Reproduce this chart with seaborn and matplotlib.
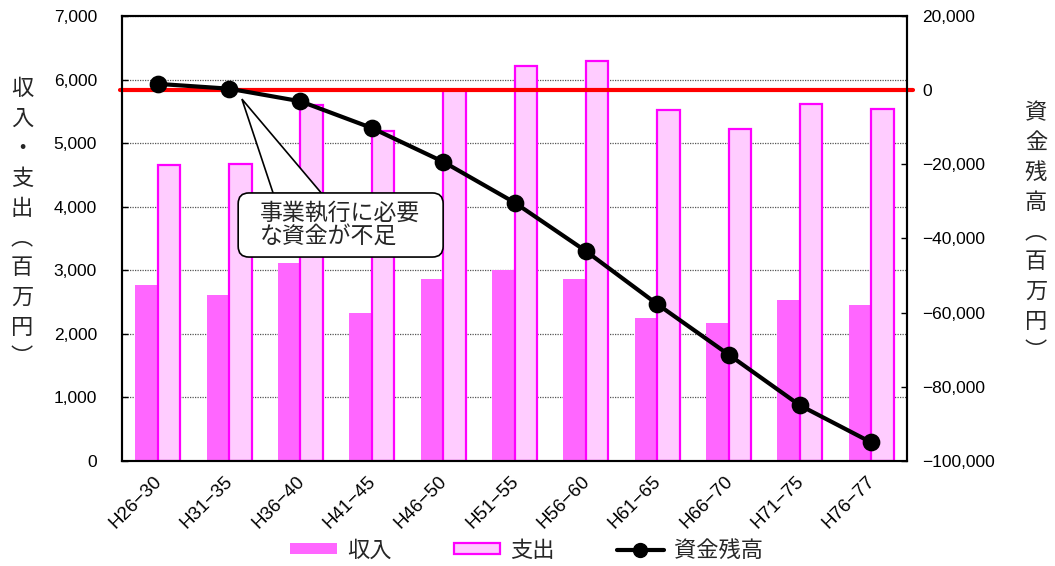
import matplotlib
matplotlib.use("Agg")
import matplotlib.pyplot as plt
from matplotlib.patches import Patch, Polygon, FancyBboxPatch
from matplotlib.lines import Line2D
from matplotlib.ticker import FixedLocator, FuncFormatter
import matplotlib.transforms as mtransforms
import numpy as np
import pandas as pd
import seaborn as sns

# --- data (百万円) ---
periods = ["H26−30", "H31−35", "H36−40", "H41−45", "H46−50", "H51−55",
           "H56−60", "H61−65", "H66−70", "H71−75", "H76−77"]
income = [2770, 2610, 3110, 2330, 2860, 3000, 2860, 2250, 2170, 2530, 2450]
expenditure = [4650, 4670, 5600, 5190, 5830, 6210, 6290, 5520, 5230, 5620, 5535]
balance = [1700, 400, -3000, -10200, -19300, -30300, -43400, -57700, -71300, -85000, -95000]

left_ticks = [0, 1000, 2000, 3000, 4000, 5000, 6000, 7000]
right_ticks = [20000, 0, -20000, -40000, -60000, -80000, -100000]

INC_COLOR = "#FF66FF"
EXP_FILL = "#FFCCFF"
EXP_EDGE = "#FF00FF"

sns.set_theme(style="white")
plt.rcParams["font.family"] = ["Liberation Sans", "Noto Sans CJK JP", "DejaVu Sans"]
JP = ["Noto Sans CJK JP", "DejaVu Sans"]

fig = plt.figure(figsize=(10.55, 5.66), dpi=100)
ax = fig.add_axes([122 / 1055, 1 - 461 / 566, 785 / 1055, 445 / 566])

df = pd.DataFrame({
    "period": periods * 2,
    "series": ["収入"] * len(periods) + ["支出"] * len(periods),
    "value": income + expenditure,
})
sns.barplot(data=df, x="period", y="value", hue="series",
            palette=[INC_COLOR, EXP_FILL], width=0.63, saturation=1,
            errorbar=None, legend=False, ax=ax, zorder=2)
for bar in ax.containers[0]:
    bar.set_edgecolor("none")
for bar in ax.containers[1]:
    bar.set_edgecolor(EXP_EDGE)
    bar.set_linewidth(1.6)

ax.set_ylim(0, 7000)
ax.yaxis.set_major_locator(FixedLocator(left_ticks))
ax.yaxis.set_major_formatter(FuncFormatter(lambda v, p: f"{v:,.0f}"))
ax.yaxis.grid(True, linestyle=(0, (1, 1)), color="#555555", linewidth=0.9, zorder=0)
ax.set_axisbelow(True)
ax.set_xlabel("")
ax.set_ylabel("")

# balance on the secondary axis
ax2 = ax.twinx()
ax2.axhline(0, xmin=-0.002, xmax=1.008, color="red", linewidth=3, zorder=1, clip_on=False)
sns.pointplot(x=periods, y=balance, color="black", markers="o", ax=ax2,
              linewidth=3, markersize=10.5, zorder=3)
ax2.set_ylim(-100000, 20000)
ax2.yaxis.set_major_locator(FixedLocator(right_ticks))
ax2.yaxis.set_major_formatter(FuncFormatter(lambda v, p: f"{v:,.0f}".replace("-", "−")))
ax2.set_ylabel("")
ax2.grid(False)

ax.set_xlim(-0.5, len(periods) - 0.5)
ax.set_xticks(range(len(periods)))
ax.set_xticklabels(periods)
ax.set_xticks(np.arange(-0.5, len(periods)), minor=True)

for a in (ax, ax2):
    for s in a.spines.values():
        s.set_color("black")
        s.set_linewidth(1.5)
ax.spines["bottom"].set_color("#444444")

ax.tick_params(axis="y", which="major", direction="in", length=4, width=1,
               color="black", labelsize=12.5, pad=18, labelcolor="black")
ax2.tick_params(axis="y", which="major", direction="in", length=4, width=1,
                color="black", labelsize=12.5, pad=11, labelcolor="black")
ax.tick_params(axis="x", which="major", length=0, labelsize=13.5, pad=13,
               labelcolor="black", labelrotation=45)
ax.tick_params(axis="x", which="minor", direction="in", length=5, width=1, color="#444444")

offset = mtransforms.ScaledTranslation(1 / 72, 0, fig.dpi_scale_trans)
for lbl in ax.get_xticklabels():
    lbl.set_rotation(45)
    lbl.set_ha("right")
    lbl.set_va("center")
    lbl.set_rotation_mode("anchor")
    lbl.set_transform(lbl.get_transform() + offset)

# callout: wedge pointing at the zero crossing, rounded box with the note
fig.canvas.draw()
p0 = ax2.transData.transform((0, 0))
p1 = ax2.transData.transform((1, 1000))
px_per_x = p1[0] - p0[0]
px_per_y = (p1[1] - p0[1]) / 1000.0

tip = (1.18, -2400)
base_l = (1.62, -27900)
base_r = (2.30, -27900)
ax2.add_patch(Polygon([tip, base_l, base_r], closed=True, facecolor="white",
                      edgecolor="black", linewidth=1.2, zorder=5))
box_x0, box_x1 = 1.128, 4.0
box_y0, box_y1 = -45000, -27720
ax2.add_patch(FancyBboxPatch((box_x0, box_y0), box_x1 - box_x0, box_y1 - box_y0,
                             boxstyle="round,pad=0,rounding_size=0.15",
                             mutation_aspect=px_per_x / px_per_y,
                             facecolor="white", edgecolor="black", linewidth=1.2,
                             zorder=6))
ax2.text(2.56, -36300, "事業執行に必要\nな資金が不足", family=JP, fontsize=16.5,
         ha="center", va="center", multialignment="left", linespacing=0.95, zorder=7)

# vertical axis titles
fig.text(22 / 1055, 1 - 223 / 566, "\n".join("収入・支出︵百万円︶"), family=JP,
         fontsize=16, ha="center", va="center", linespacing=1.38)
fig.text(1036 / 1055, 1 - 232 / 566, "\n".join("資金残高︵百万円︶"), family=JP,
         fontsize=16, ha="center", va="center", linespacing=1.38)

handles = [
    Patch(facecolor=INC_COLOR, edgecolor="none"),
    Patch(facecolor=EXP_FILL, edgecolor=EXP_EDGE, linewidth=1.6),
    Line2D([], [], color="black", linewidth=3, marker="o", markersize=10),
]
fig.legend(handles, ["収入", "支出", "資金残高"], loc="center", ncol=3,
           bbox_to_anchor=(0.499, 0.028), frameon=False,
           prop={"family": JP, "size": 16}, handlelength=2.1, handleheight=0.35,
           handletextpad=0.45, columnspacing=2.8)

fig.savefig("out.png", dpi=100)
